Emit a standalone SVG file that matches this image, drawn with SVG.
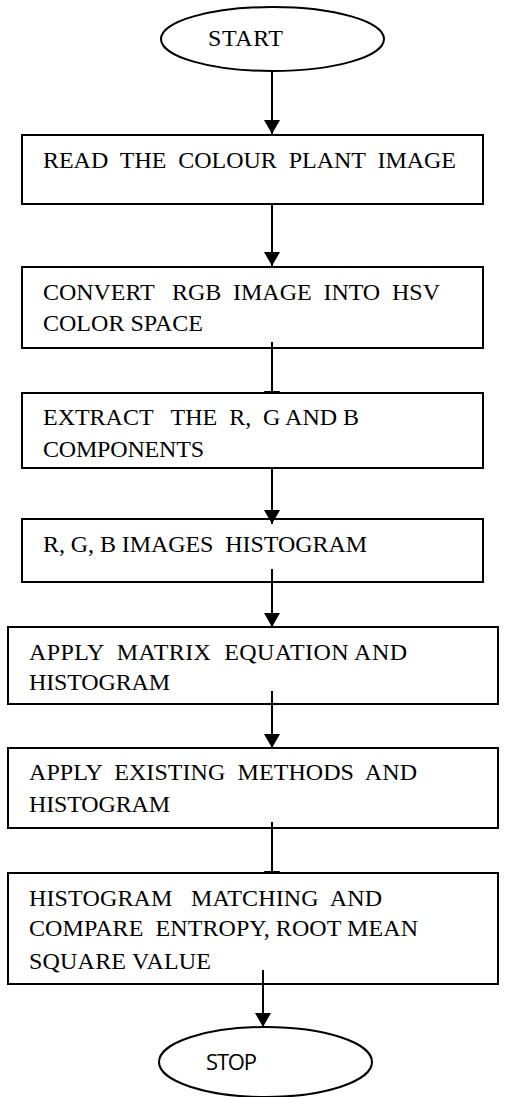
<svg xmlns="http://www.w3.org/2000/svg" width="507" height="1097" viewBox="0 0 507 1097" xml:space="preserve">
<style>
.box{fill:none;stroke:#000;stroke-width:2}
.t{font-family:"Liberation Serif","Times New Roman",serif;font-size:24px;fill:#000;white-space:pre}
.s{font-family:"Open Sans","Noto Sans",sans-serif;font-size:22px;fill:#000}
.c{stroke:#000;stroke-width:2;fill:none}
.c.a{marker-end:url(#arr)}
</style>
<defs>
<marker id="arr" markerUnits="userSpaceOnUse" viewBox="0 0 14 16" refX="14" refY="8" markerWidth="14" markerHeight="16" orient="auto">
<path d="M0,0 L14,8 L0,16 z" fill="#000"/>
</marker>
</defs>
<g id="connectors">
<line class="c a" x1="272" y1="71" x2="272" y2="134"/>
<line class="c a" x1="272" y1="204" x2="272" y2="266"/>
<line class="c" x1="272" y1="342" x2="272" y2="393"/>
<polygon points="264,391 280,391 279.5,393 264.5,393" fill="#000"/>
<line class="c a" x1="272" y1="468" x2="272" y2="524"/>
<line class="c a" x1="272" y1="569" x2="272" y2="627"/>
<line class="c a" x1="272" y1="691" x2="272" y2="748"/>
<line class="c" x1="272" y1="822" x2="272" y2="873"/>
<polygon points="264,871 280,871 279.5,873 264.5,873" fill="#000"/>
<line class="c a" x1="263" y1="970" x2="263" y2="1027"/>
</g>
<g id="start">
<ellipse class="box" cx="272.5" cy="39" rx="111.5" ry="32"/>
<text class="t" x="208" y="46" textLength="75">START</text>
</g>
<g id="read">
<rect class="box" x="22" y="135" width="461" height="69"/>
<text class="t" x="43" y="168" textLength="413">READ  THE  COLOUR  PLANT  IMAGE</text>
</g>
<g id="convert">
<rect class="box" x="22" y="267" width="461" height="81"/>
<text class="t" x="43" y="300" textLength="397">CONVERT   RGB  IMAGE  INTO  HSV</text>
<text class="t" x="43" y="331" textLength="160">COLOR SPACE</text>
</g>
<g id="extract">
<rect class="box" x="22" y="393" width="461" height="75"/>
<text class="t" x="43" y="425" textLength="316">EXTRACT   THE  R,  G AND B</text>
<text class="t" x="43" y="457" textLength="161">COMPONENTS</text>
</g>
<g id="histogram">
<rect class="box" x="22" y="519" width="461" height="63"/>
<text class="t" x="43" y="552" textLength="324">R, G, B IMAGES  HISTOGRAM</text>
</g>
<g id="matrix">
<rect class="box" x="8" y="627" width="490" height="77"/>
<text class="t" x="29" y="660" textLength="378">APPLY  MATRIX  EQUATION AND</text>
<text class="t" x="29" y="690" textLength="141">HISTOGRAM</text>
</g>
<g id="existing">
<rect class="box" x="8" y="748" width="490" height="80"/>
<text class="t" x="29" y="780" textLength="388">APPLY  EXISTING  METHODS  AND</text>
<text class="t" x="29" y="812" textLength="141">HISTOGRAM</text>
</g>
<g id="matching">
<rect class="box" x="8" y="873" width="490" height="111"/>
<text class="t" x="29" y="905.5" textLength="353">HISTOGRAM   MATCHING  AND</text>
<text class="t" x="29" y="936" textLength="389">COMPARE  ENTROPY, ROOT MEAN</text>
<text class="t" x="29" y="968.5" textLength="182">SQUARE VALUE</text>
</g>
<g id="stop">
<ellipse class="box" cx="265.5" cy="1062" rx="106.5" ry="35"/>
<text class="s" x="206" y="1070" textLength="51">STOP</text>
</g>
</svg>
